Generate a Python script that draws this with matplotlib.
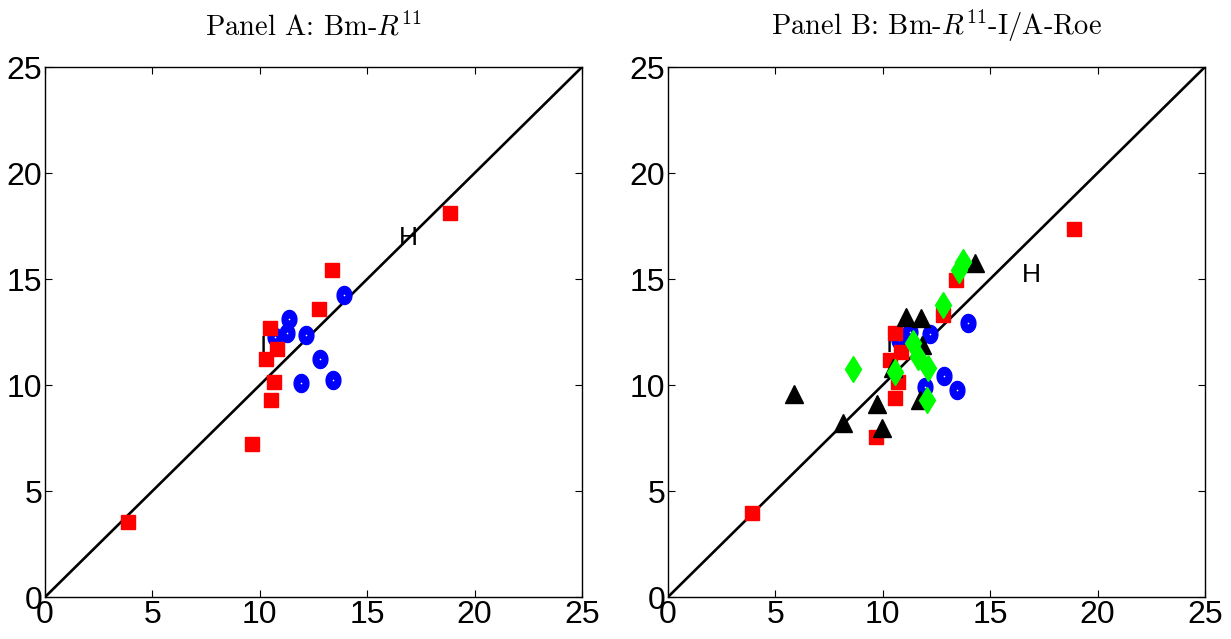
import matplotlib
matplotlib.use("Agg")
import matplotlib.pyplot as plt
from matplotlib import font_manager
import numpy as np

# values
# Panel A
a_red_x = [3.86, 9.64, 10.29, 10.49, 10.54, 10.66, 10.78, 12.74, 13.36, 18.85]
a_red_y = [3.54, 7.22, 11.23, 12.67, 9.29, 10.16, 11.68, 13.60, 15.42, 18.13]
a_blue_x = [10.71, 11.25, 11.37, 11.90, 12.15, 12.80, 13.39, 13.90]
a_blue_y = [12.28, 12.44, 13.10, 10.11, 12.36, 11.21, 10.24, 14.25]

# Panel B
b_red_x = [3.93, 9.68, 10.34, 10.57, 10.57, 10.72, 10.83, 12.79, 13.41, 18.90]
b_red_y = [3.95, 7.56, 11.18, 12.44, 9.37, 10.16, 11.57, 13.30, 14.95, 17.36]
b_blue_x = [10.77, 11.27, 12.20, 11.96, 12.85, 13.44, 13.95]
b_blue_y = [12.12, 12.52, 12.41, 9.92, 10.42, 9.76, 12.94]
b_black_x = [5.87, 8.13, 9.72, 9.95, 10.46, 11.08, 11.73, 11.76, 11.81, 14.29]
b_black_y = [9.56, 8.19, 9.12, 7.96, 10.79, 13.22, 9.29, 13.15, 11.89, 15.74]
b_green_x = [8.60, 10.57, 11.42, 11.65, 12.07, 12.12, 12.82, 13.56, 13.72]
b_green_y = [10.74, 10.63, 11.97, 11.34, 9.29, 10.79, 13.77, 15.42, 15.82]

# "H" / "I" annotations
a_labels = [("H", 16.9, 16.93), ("I", 10.16, 11.8)]
b_labels = [("H", 16.9, 15.19), ("I", 10.3, 11.9)]

ticks = [0, 5, 10, 15, 20, 25]

installed = set(f.name for f in font_manager.fontManager.ttflist)
tick_font = "Liberation Sans Narrow" if "Liberation Sans Narrow" in installed else "Liberation Sans"

plt.rcParams["mathtext.fontset"] = "cm"

fig = plt.figure(figsize=(12.31, 6.39), dpi=100)
ax_a = fig.add_axes([0.0366, 0.0657, 0.4362, 0.8294])
ax_b = fig.add_axes([0.5426, 0.0657, 0.4362, 0.8294])

# slightly tall ellipse, like the MATLAB circles
t = np.linspace(0, 2 * np.pi, 60)
ellipse = np.column_stack([np.cos(t) * 0.82, np.sin(t)])


def setup(ax, title):
    ax.plot([0, 25], [0, 25], color="black", lw=1.9, zorder=1)
    ax.set_xlim(0, 25)
    ax.set_ylim(0, 25)
    ax.set_xticks(ticks)
    ax.set_yticks(ticks)
    ax.tick_params(direction="in", length=5, width=0.8, top=True, right=True,
                   labelsize=23, pad=2)
    for lab in ax.get_xticklabels() + ax.get_yticklabels():
        lab.set_fontfamily(tick_font)
    for s in ax.spines.values():
        s.set_linewidth(1.0)
    ax.set_title(title, fontsize=20.5, family="cmr10", pad=23)


def blue(ax, x, y):
    ax.plot(x, y, ls="none", marker=ellipse, ms=13, color="#0000ff", zorder=3)
    # MATLAB leaves a little white dot in the middle
    ax.plot(x, y, ls="none", marker="o", ms=1.2, mew=0, color="white", zorder=3.1)


setup(ax_a, r"Panel A: Bm-$R^{11}$")
for txt, x, y in a_labels:
    ax_a.text(x, y, txt, fontsize=19, family=tick_font, ha="center", va="center", zorder=2)
blue(ax_a, a_blue_x, a_blue_y)
ax_a.plot(a_red_x, a_red_y, ls="none", marker="s", ms=10, color="#ff0000", zorder=4)

setup(ax_b, r"Panel B: Bm-$R^{11}$-I/A-Roe")
for txt, x, y in b_labels:
    ax_b.text(x, y, txt, fontsize=19, family=tick_font, ha="center", va="center", zorder=2)
blue(ax_b, b_blue_x, b_blue_y)
ax_b.plot(b_red_x, b_red_y, ls="none", marker="s", ms=10, color="#ff0000", zorder=4)
ax_b.plot(b_black_x, b_black_y, ls="none", marker="^", ms=13, color="black", zorder=5)
ax_b.plot(b_green_x, b_green_y, ls="none", marker="d", ms=13, color="#00ff00", zorder=6)

fig.savefig("out.png", dpi=100)
